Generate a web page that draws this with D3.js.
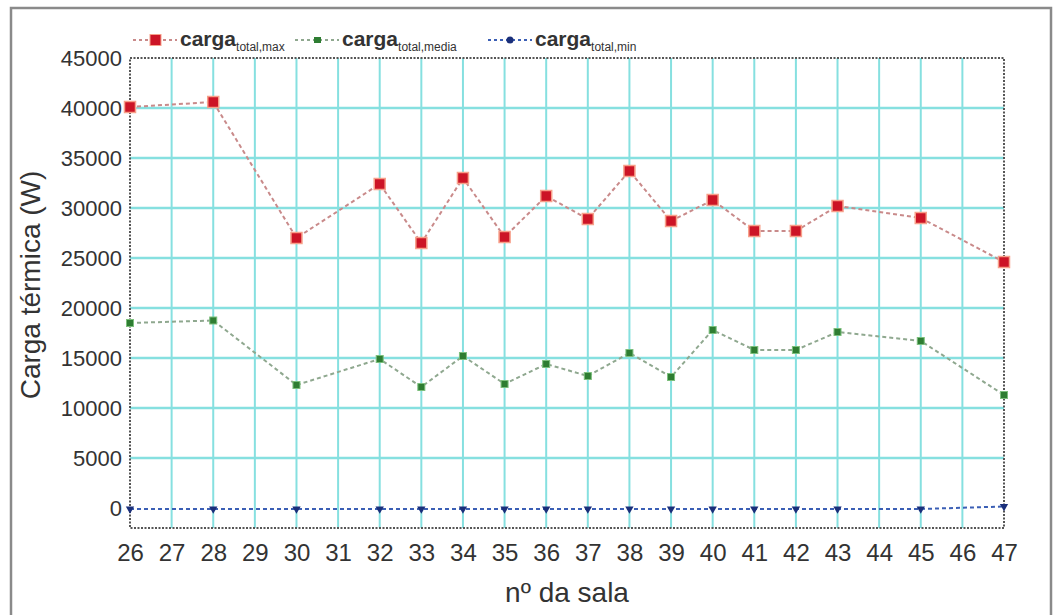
<!DOCTYPE html>
<html><head><meta charset="utf-8">
<script src="https://cdn.jsdelivr.net/npm/d3@7"></script>
<style>body{margin:0;background:#fff;}svg{display:block;font-family:"Liberation Sans",Arial,sans-serif;}</style>
</head><body><svg id="c" width="1057" height="615"></svg>
<script>
const xTicks = [26,27,28,29,30,31,32,33,34,35,36,37,38,39,40,41,42,43,44,45,46,47];
const yTicks = [0,5000,10000,15000,20000,25000,30000,35000,40000,45000];
const salas = [26,28,30,32,33,34,35,36,37,38,39,40,41,42,43,45,47];
const cargaMax = [40100,40600,27000,32400,26500,33000,27100,31200,28900,33700,28700,30800,27700,27700,30200,29000,24600];
const cargaMedia = [18500,18750,12300,14900,12100,15200,12400,14400,13200,15500,13100,17800,15800,15800,17600,16700,11300];
const cargaMin = [-100,-100,-100,-100,-100,-100,-100,-100,-100,-100,-100,-100,-100,-100,-100,-100,150];
const seriesNames = ["total,max","total,media","total,min"];

const svg = d3.select("#c");
const L=130, R=1004, T=58, B=528;
const x = d3.scaleLinear().domain([26,47]).range([L,R]);
const y = d3.scaleLinear().domain([-2000,45000]).range([B,T]);

// outer frame
svg.append("rect").attr("x",11).attr("y",8).attr("width",1040).attr("height",640)
  .attr("fill","none").attr("stroke","#8a8a8a").attr("stroke-width",2.5);

// grid
const g = svg.append("g");
g.selectAll(".vg").data(xTicks.slice(1,-1)).join("line")
  .attr("x1",d=>x(d)).attr("x2",d=>x(d)).attr("y1",T).attr("y2",B)
  .attr("stroke","#86e0e0").attr("stroke-width",2);
g.selectAll(".hg").data(yTicks.filter(v=>v>0&&v<45000)).join("line")
  .attr("x1",L).attr("x2",R).attr("y1",d=>y(d)).attr("y2",d=>y(d))
  .attr("stroke","#86e0e0").attr("stroke-width",2.5);

// axes
const yAxis = d3.axisLeft(y).tickValues(yTicks).tickSize(0).tickPadding(8).tickFormat(d3.format("d"));
const ya = svg.append("g").attr("transform",`translate(${L},0)`).call(yAxis);
ya.select(".domain").remove();
ya.selectAll("text").attr("font-size",22).attr("fill","#333").attr("font-family","Liberation Sans, Arial");

const xAxis = d3.axisBottom(x).tickValues(xTicks).tickSize(0).tickPadding(16).tickFormat(d3.format("d"));
const xa = svg.append("g").attr("transform",`translate(0,${B})`).call(xAxis);
xa.select(".domain").remove();
xa.selectAll("text").attr("font-size",24).attr("fill","#333").attr("font-family","Liberation Sans, Arial");

// plot frame (dotted)
svg.append("rect").attr("x",L).attr("y",T).attr("width",R-L).attr("height",B-T)
  .attr("fill","none").attr("stroke","#555").attr("stroke-width",2).attr("stroke-dasharray","2,1.5");

// titles
svg.append("text").attr("x",567).attr("y",602).attr("text-anchor","middle")
  .attr("font-size",28).attr("fill","#333").text("nº da sala");
svg.append("text").attr("transform","translate(40,285) rotate(-90)").attr("text-anchor","middle")
  .attr("font-size",28).attr("fill","#333").text("Carga térmica (W)");

// series
const line = d3.line().x(d=>x(d[0])).y(d=>y(d[1]));
const mk = (vals)=>salas.map((s,i)=>[s,vals[i]]);
const dMax = mk(cargaMax), dMed = mk(cargaMedia), dMin = mk(cargaMin);

svg.append("path").datum(dMax).attr("d",line).attr("fill","none")
  .attr("stroke","#c98a8a").attr("stroke-width",2).attr("stroke-dasharray","4,3");
svg.append("path").datum(dMed).attr("d",line).attr("fill","none")
  .attr("stroke","#8fa88f").attr("stroke-width",2).attr("stroke-dasharray","4,3");
svg.append("path").datum(dMin).attr("d",line).attr("fill","none")
  .attr("stroke","#3b5fb5").attr("stroke-width",2).attr("stroke-dasharray","4,3");

svg.selectAll(".mmax").data(dMax).join("rect")
  .attr("x",d=>x(d[0])-5.5).attr("y",d=>y(d[1])-5.5).attr("width",11).attr("height",11)
  .attr("fill","#cc1426").attr("stroke","#f7a08a").attr("stroke-width",1.5);
svg.selectAll(".mmed").data(dMed).join("rect")
  .attr("x",d=>x(d[0])-3.5).attr("y",d=>y(d[1])-3.5).attr("width",7).attr("height",7)
  .attr("fill","#2e7d32").attr("stroke","#7cbf7c").attr("stroke-width",1);
const tri = d3.symbol().type(d3.symbolTriangle).size(30);
svg.selectAll(".mmin").data(dMin).join("path")
  .attr("d",tri).attr("transform",d=>`translate(${x(d[0])},${y(d[1])}) rotate(180)`)
  .attr("fill","#1a2f7a");

// legend
const legX = [133, 295, 488];
const legColors = [["#c98a8a","#cc1426"],["#8fa88f","#2e7d32"],["#3b5fb5","#1a2f7a"]];
seriesNames.forEach((n,i)=>{
  const lg = svg.append("g").attr("transform",`translate(${legX[i]},40)`);
  lg.append("line").attr("x1",0).attr("x2",44).attr("y1",0).attr("y2",0)
    .attr("stroke",legColors[i][0]).attr("stroke-width",2).attr("stroke-dasharray","3,3");
  if(i===0) lg.append("rect").attr("x",17).attr("y",-5.5).attr("width",11).attr("height",11).attr("fill","#cc1426").attr("stroke","#f7a08a");
  if(i===1) lg.append("rect").attr("x",19).attr("y",-3).attr("width",7).attr("height",6).attr("fill","#2e7d32");
  if(i===2) lg.append("circle").attr("cx",22).attr("cy",0).attr("r",3.5).attr("fill","#1a2f7a");
  const t = lg.append("text").attr("x",47).attr("y",6).attr("font-size",21).attr("fill","#333").attr("font-weight","bold");
  t.append("tspan").text("carga");
  t.append("tspan").attr("dy",5).attr("font-size",12).attr("font-weight","normal").text(n);
});
</script></body></html>
